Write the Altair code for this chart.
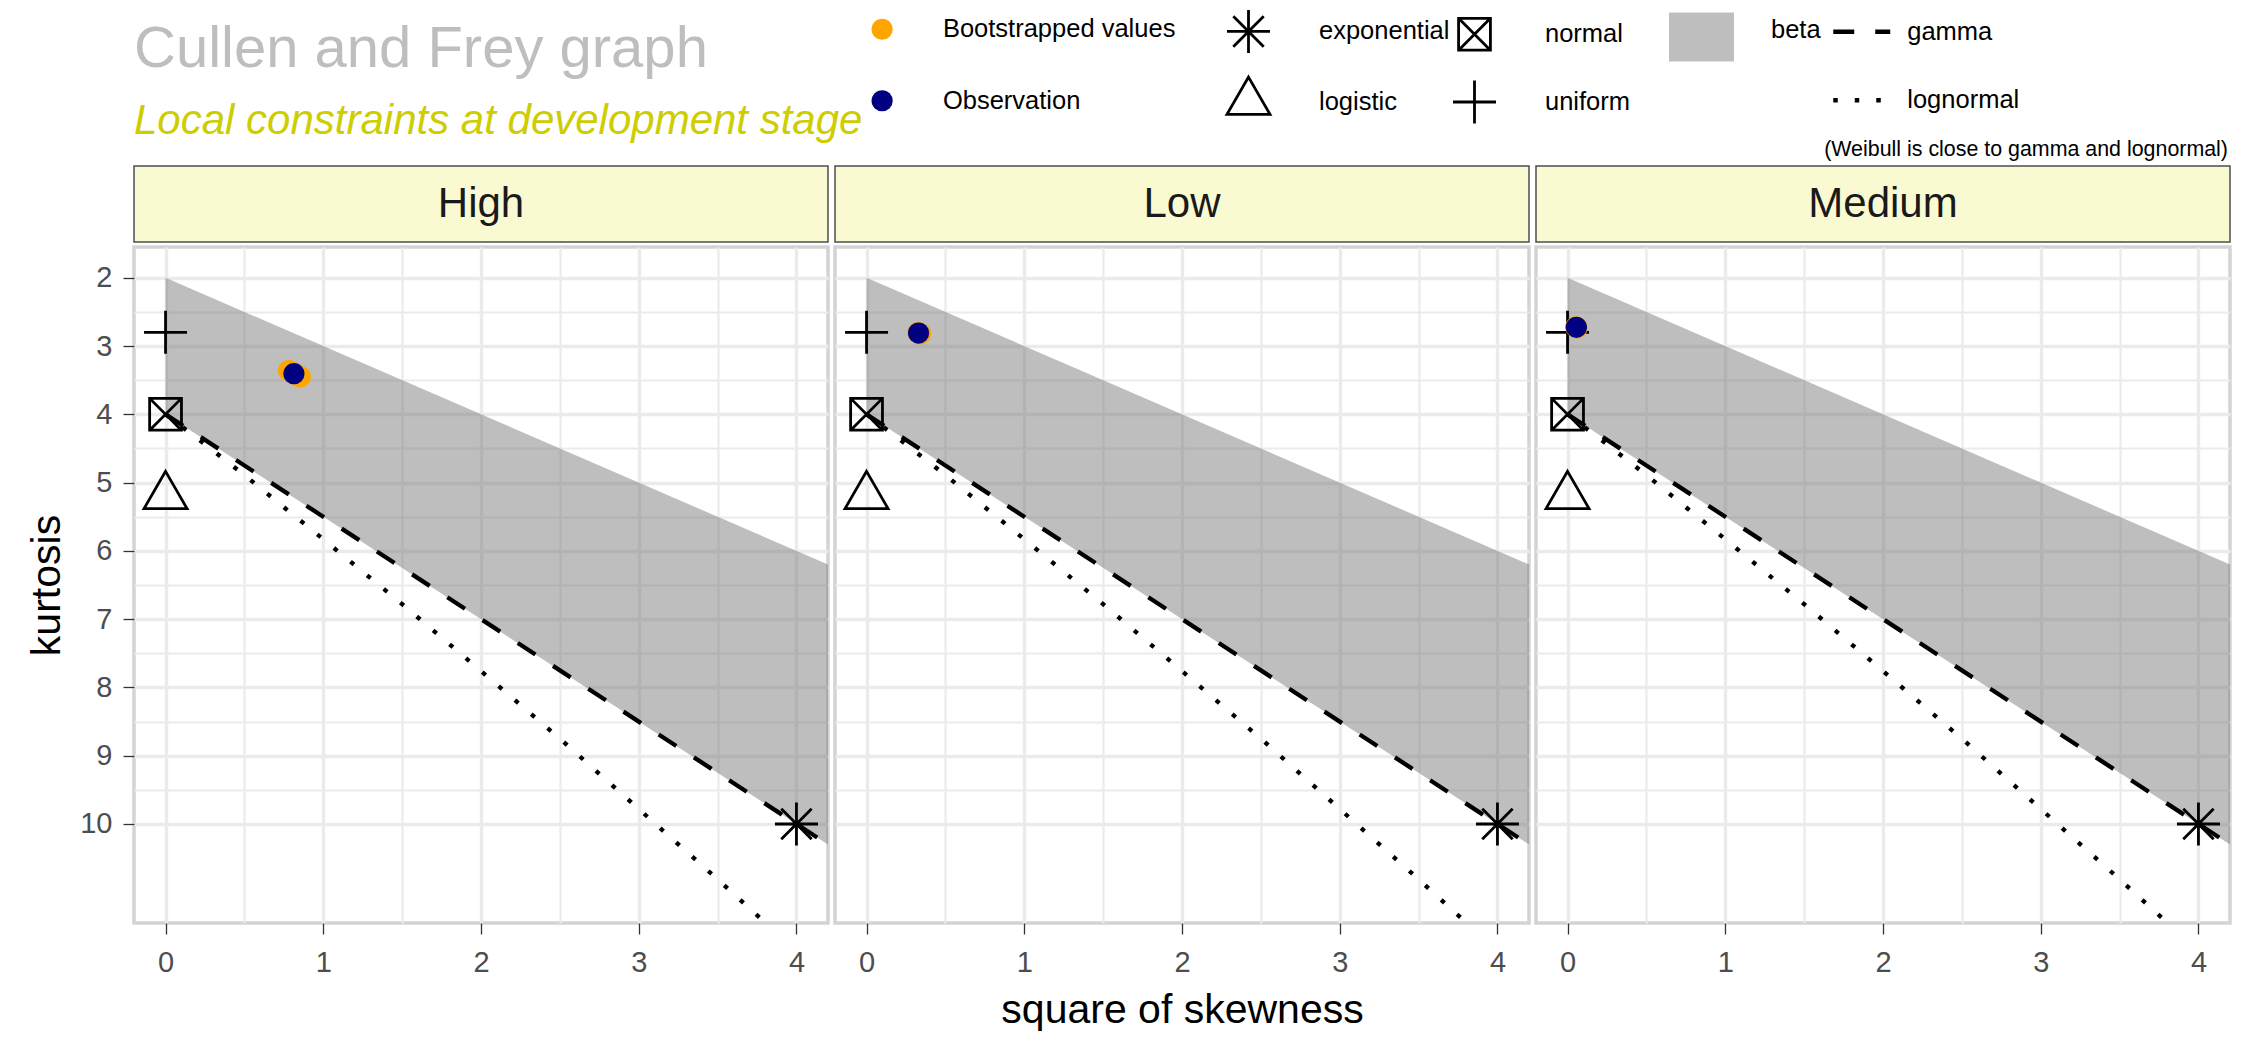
import altair as alt
import pandas as pd

# ---- data ----
panels = ["High", "Low", "Medium"]

obs_skew2 = [0.814, 0.330, 0.056]
obs_kurt = [3.405, 2.810, 2.727]

boot_skew2 = {
    "High": [0.780, 0.792, 0.803, 0.812, 0.821, 0.833, 0.845, 0.855],
    "Low": [0.325, 0.332, 0.338, 0.343],
    "Medium": [0.052, 0.056, 0.060],
}
boot_kurt = {
    "High": [3.36, 3.37, 3.39, 3.40, 3.41, 3.43, 3.44, 3.45],
    "Low": [2.805, 2.810, 2.817, 2.822],
    "Medium": [2.720, 2.727, 2.735],
}

theo_names = ["exponential", "logistic", "normal", "uniform"]
theo_skew2 = [4.0, 0.0, 0.0, 0.0]
theo_kurt = [10.0, 5.2, 4.0, 2.8]

beta_skew2 = [0.0, 4.2]
beta_kurt_top = [2.0, 6.2]
beta_kurt_bottom = [4.0, 10.3]

gamma_skew2 = [0.0, 4.2]
gamma_kurt = [4.0, 10.3]

lnorm_skew2 = [0.0, 0.25, 0.5, 1.0, 1.5, 2.0, 2.5, 3.0, 3.5, 4.0]
lnorm_kurt = [4.0, 4.44, 4.89, 5.83, 6.78, 7.76, 8.75, 9.78, 10.81, 11.86]

x_ticks = [0, 1, 2, 3, 4]
x_minor = [0.5, 1.5, 2.5, 3.5]
y_ticks = [2, 3, 4, 5, 6, 7, 8, 9, 10]
y_minor = [2.5, 3.5, 4.5, 5.5, 6.5, 7.5, 8.5, 9.5]

note_text = "(Weibull is close to gamma and lognormal)"

FONT = "Liberation Sans"
W, H, STRIP_H = 694, 676, 76
OX, OY = 134, 166  # page position of the first strip's top-left corner
ROW1, ROW2 = 29.5, 101  # page y of the two legend rows

# ---- scales ----
x_scale = alt.Scale(domain=[-0.2, 4.2], nice=False, zero=False)
y_scale = alt.Scale(domain=[1.55, 11.45], nice=False, zero=False, reverse=True)

shape_paths = [
    "M-1,0L1,0M0,-1L0,1M-0.707,-0.707L0.707,0.707M-0.707,0.707L0.707,-0.707",
    "M0,-1.155L1,0.577L-1,0.577Z",
    "M-0.74,-0.74L0.74,-0.74L0.74,0.74L-0.74,0.74ZM-0.74,-0.74L0.74,0.74M-0.74,0.74L0.74,-0.74",
    "M-1,0L1,0M0,-1L0,1",
]

LBL = dict(labelFontSize=25.5, labelFont=FONT, labelColor="black", labelLimit=600)

color_legend = alt.Legend(
    title=None, orient="none", legendX=880 - 10.6 - OX, legendY=ROW1 - 13 - OY,
    symbolSize=450, symbolType="circle", rowPadding=44.5, padding=0, labelOffset=48, **LBL,
)
shape_legend = alt.Legend(
    title=None, orient="none", legendX=1247 - 21.5 - OX, legendY=ROW1 - 21.5 - OY,
    columns=2, columnPadding=-3, rowPadding=12, padding=0, labelOffset=47.5,
    symbolSize=1850, symbolStrokeColor="black", symbolStrokeWidth=2.8,
    symbolFillColor="transparent", **LBL,
)
fill_legend = alt.Legend(
    title=None, orient="none", legendX=1684.5 - OX, legendY=ROW1 - 17 - OY, padding=0,
    symbolType="M-1.91,-1L1.91,-1L1.91,1.88L-1.91,1.88Z", symbolSize=1156,
    symbolOpacity=0.45, symbolStrokeWidth=0, labelOffset=52.5, **LBL,
)
dash_legend = alt.Legend(
    title=None, orient="none", legendX=1845.25 - OX, legendY=ROW1 - 14.25 - OY, padding=0,
    rowPadding=38.5, symbolType="M-2,0L2,0", symbolSize=812, symbolStrokeColor="black",
    symbolFillColor="transparent", symbolStrokeWidth=4.5, labelOffset=29, **LBL,
)


def table(panel, **cols):
    df = pd.DataFrame(cols)
    df["panel"] = panel
    return df


def make_panel(i, name):
    first = i == 0
    x_axis = alt.Axis(
        values=x_ticks, grid=True, gridColor="#EBEBEB", gridWidth=3.4, domain=False,
        ticks=True, tickColor="#333333", tickSize=11, tickWidth=1.3,
        labelFontSize=29, labelFont=FONT, labelColor="#4D4D4D", labelPadding=14,
        title="square of skewness" if i == 1 else None,
        titleFontSize=41, titleFont=FONT, titleColor="black", titleFontWeight="normal",
        titlePadding=13.5, minExtent=0,
    )
    y_axis = alt.Axis(
        values=y_ticks, grid=True, gridColor="#EBEBEB", gridWidth=3.4, domain=False,
        ticks=first, tickColor="#333333", tickSize=11, tickWidth=1.3,
        labels=first, labelFontSize=29, labelFont=FONT, labelColor="#4D4D4D",
        labelPadding=11,
        title="kurtosis" if first else None,
        titleFontSize=41, titleFont=FONT, titleColor="black", titleFontWeight="normal",
        titlePadding=11, minExtent=0,
    )
    x_minor_axis = alt.Axis(orient="top", values=x_minor, grid=True, gridColor="#EBEBEB",
                            gridWidth=2.2, domain=False, ticks=False, labels=False,
                            title=None, minExtent=0)
    y_minor_axis = alt.Axis(orient="right", values=y_minor, grid=True, gridColor="#EBEBEB",
                            gridWidth=2.2, domain=False, ticks=False, labels=False,
                            title=None, minExtent=0)

    beta_df = table(name, skew2=beta_skew2, top=beta_kurt_top, bottom=beta_kurt_bottom, law="beta")
    lines_df = pd.concat([
        table(name, skew2=gamma_skew2, kurt=gamma_kurt, law="gamma"),
        table(name, skew2=lnorm_skew2, kurt=lnorm_kurt, law="lognormal"),
    ])
    theo_df = table(name, skew2=theo_skew2, kurt=theo_kurt, law=theo_names)
    pts_df = pd.concat([
        table(name, skew2=boot_skew2[name], kurt=boot_kurt[name], kind="Bootstrapped values"),
        table(name, skew2=[obs_skew2[i]], kurt=[obs_kurt[i]], kind="Observation"),
    ])

    minor = alt.Chart(beta_df).mark_point(opacity=0).encode(
        x=alt.X("skew2:Q", scale=x_scale, axis=x_minor_axis),
        y=alt.Y("top:Q", scale=y_scale, axis=y_minor_axis),
    )
    beta = alt.Chart(beta_df).mark_area(opacity=0.45, clip=True).encode(
        x=alt.X("skew2:Q", scale=x_scale, axis=x_axis),
        y=alt.Y("top:Q", scale=y_scale, axis=y_axis),
        y2="bottom:Q",
        fill=alt.Fill("law:N", scale=alt.Scale(domain=["beta"], range=["#6E6E6E"]),
                      legend=fill_legend),
    )
    lines = alt.Chart(lines_df).mark_line(strokeWidth=4.3, color="black", clip=True,
                                          strokeCap="butt").encode(
        x=alt.X("skew2:Q", scale=x_scale, axis=None),
        y=alt.Y("kurt:Q", scale=y_scale, axis=None),
        strokeDash=alt.StrokeDash(
            "law:N",
            scale=alt.Scale(domain=["gamma", "lognormal"], range=[[21, 21], [4.5, 17]]),
            legend=dash_legend,
        ),
    )
    theo = alt.Chart(theo_df).mark_point(filled=False, size=1850, strokeWidth=2.8,
                                         color="black", opacity=1).encode(
        x=alt.X("skew2:Q", scale=x_scale, axis=None),
        y=alt.Y("kurt:Q", scale=y_scale, axis=None),
        shape=alt.Shape("law:N", scale=alt.Scale(domain=theo_names, range=shape_paths),
                        legend=shape_legend),
    )
    pts = alt.Chart(pts_df).mark_circle(size=450, opacity=1).encode(
        x=alt.X("skew2:Q", scale=x_scale, axis=None),
        y=alt.Y("kurt:Q", scale=y_scale, axis=None),
        color=alt.Color(
            "kind:N",
            scale=alt.Scale(domain=["Bootstrapped values", "Observation"],
                            range=["#FFA500", "#000080"]),
            legend=color_legend,
        ),
    )
    plot = (
        alt.layer(minor, beta, lines, theo, pts)
        .resolve_axis(x="independent", y="independent")
        .properties(width=W, height=H)
    )

    strip_df = pd.DataFrame({"panel": [name], "note": [note_text]})
    label = alt.Chart(strip_df).mark_text(fontSize=42, font=FONT, color="#1A1A1A",
                                          baseline="middle").encode(
        x=alt.value(W / 2), y=alt.value(STRIP_H / 2), text="panel:N",
    )
    # the note is only shown above the last strip; the others keep an invisible copy
    # so that all three columns have the same height
    note = alt.Chart(strip_df).mark_text(fontSize=21.4, font=FONT, color="black",
                                         align="right", baseline="middle",
                                         opacity=1 if name == "Medium" else 0).encode(
        x=alt.value(W - 2), y=alt.value(-16), text="note:N",
    )
    strip = alt.layer(label, note).properties(
        width=W, height=STRIP_H,
        view=alt.ViewBackground(fill="#FAFAD2", stroke="#4D4D4D", strokeWidth=1.5),
    )
    return alt.vconcat(strip, plot, spacing=2)


chart = (
    alt.hconcat(*[make_panel(i, p) for i, p in enumerate(panels)], spacing=0)
    .properties(
        padding={"left": 16, "top": 0, "right": 0, "bottom": 0},
        title=alt.Title(
            "Cullen and Frey graph",
            subtitle="Local constraints at development stage",
            anchor="start", frame="group", fontSize=58, font=FONT, fontWeight="normal",
            color="#BEBEBE", subtitleFontSize=42, subtitleFont=FONT,
            subtitleFontStyle="italic", subtitleColor="#CDCD00", subtitlePadding=22,
            offset=-134,
        ),
    )
    .configure(font=FONT)
    .configure_view(stroke="#D3D3D3", strokeWidth=3.5, fill="white")
)

chart.save("out.html", embed_options={"renderer": "svg", "actions": False})
